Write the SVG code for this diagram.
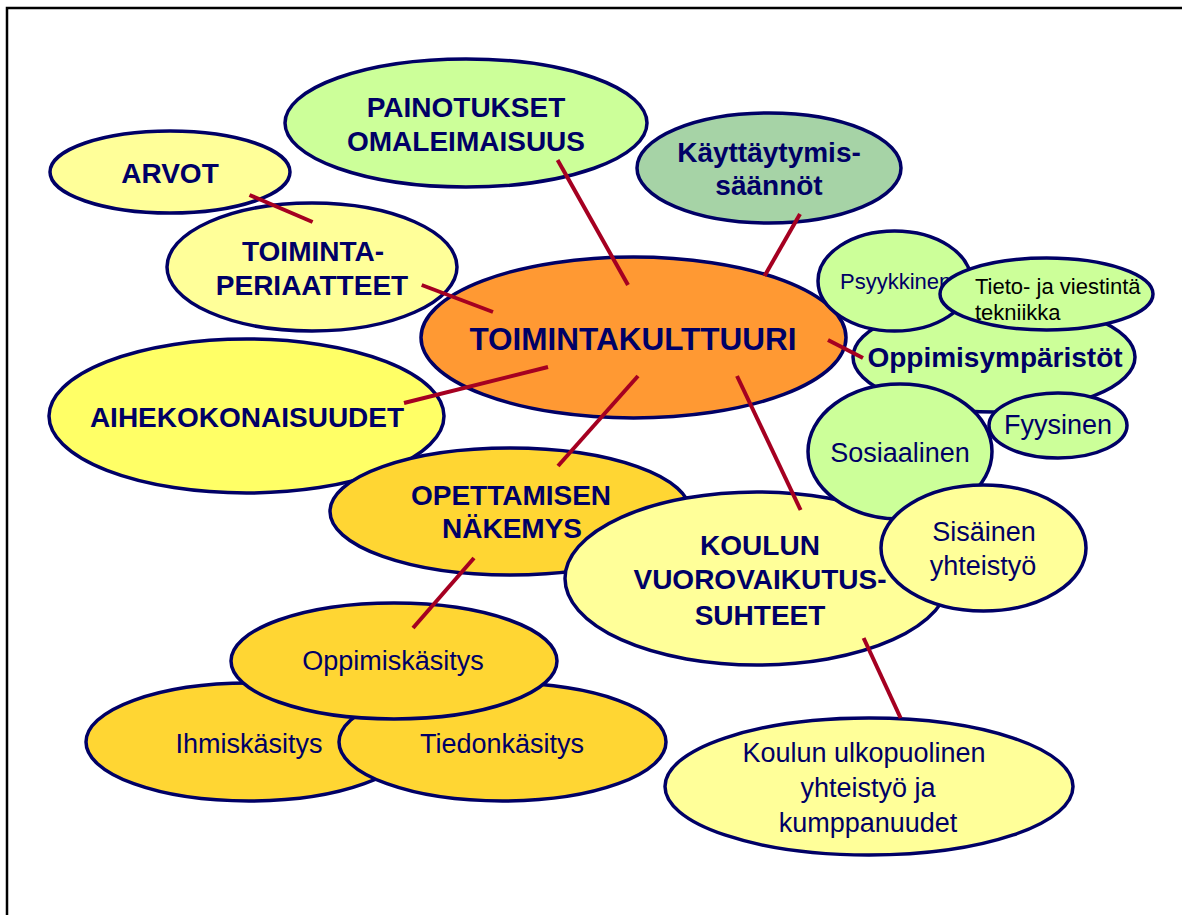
<svg xmlns="http://www.w3.org/2000/svg" width="1182" height="915" viewBox="0 0 1182 915">
<style>
.n{stroke:#000066;stroke-width:3.5}
.y{fill:#FFFF99}.g{fill:#CCFF99}.o{fill:#FF9933}.b{fill:#FFFF66}.d{fill:#FFD633}.s{fill:#A6D3A6}
text{font-family:"Liberation Sans",Arial,sans-serif;fill:#000066;text-anchor:middle}
.B{font-weight:bold;font-size:28px}
.R{font-size:27px}
.S{font-size:22px;text-anchor:start}
.c line{stroke:#A50021;stroke-width:4}
</style>
<rect width="1182" height="915" fill="#fff"/>
<path d="M7,916 V8 H1182" fill="none" stroke="#000" stroke-width="2.5"/>
<g id="arvot"><ellipse class="n y" cx="170" cy="172" rx="120" ry="41"/><text class="B" x="170" y="183">ARVOT</text></g>
<g id="painotukset"><ellipse class="n g" cx="466" cy="123" rx="181" ry="64"/><text class="B" x="466" y="117">PAINOTUKSET</text><text class="B" x="466" y="151">OMALEIMAISUUS</text></g>
<g id="kayttaytymis"><ellipse class="n s" cx="769" cy="168" rx="132" ry="55"/><text class="B" x="769" y="162">Käyttäytymis-</text><text class="B" x="769" y="195">säännöt</text></g>
<g id="periaatteet"><ellipse class="n y" cx="312" cy="267" rx="145" ry="64"/><text class="B" x="313" y="261">TOIMINTA-</text><text class="B" x="312" y="295">PERIAATTEET</text></g>
<g id="toimintakulttuuri"><ellipse class="n o" cx="633.5" cy="337.5" rx="212.5" ry="80.5"/><text class="B" x="633" y="350" style="font-size:31.5px">TOIMINTAKULTTUURI</text></g>
<g id="aihekokonaisuudet"><ellipse class="n b" cx="246.5" cy="416" rx="197.5" ry="77"/><text class="B" x="247" y="427">AIHEKOKONAISUUDET</text></g>
<g id="opettamisen"><ellipse class="n d" cx="510" cy="511.5" rx="180" ry="63.5"/><text class="B" x="511" y="505">OPETTAMISEN</text><text class="B" x="512" y="538">NÄKEMYS</text></g>
<g id="oppimisymparistot"><ellipse class="n g" cx="994" cy="357" rx="141" ry="55"/><text class="B" x="995" y="367">Oppimisympäristöt</text></g>
<g id="psyykkinen"><ellipse class="n g" cx="894.5" cy="281" rx="76.5" ry="50"/><text class="S" x="840" y="289">Psyykkinen</text></g>
<g id="tieto"><ellipse class="n g" cx="1046.5" cy="294" rx="106.5" ry="36"/><text class="S" x="975" y="294" style="fill:#000">Tieto- ja viestintä</text><text class="S" x="975" y="320" style="fill:#000">tekniikka</text></g>
<g id="fyysinen"><ellipse class="n g" cx="1058" cy="425.5" rx="69" ry="32.5"/><text class="R" x="1058" y="434">Fyysinen</text></g>
<g id="koulun"><ellipse class="n y" cx="757" cy="578.5" rx="192" ry="86.5"/><text class="B" x="760" y="555">KOULUN</text><text class="B" x="760" y="589">VUOROVAIKUTUS-</text><text class="B" x="760" y="625">SUHTEET</text></g>
<g id="sosiaalinen"><ellipse class="n g" cx="900" cy="451.5" rx="92" ry="67.5"/><text class="R" x="900" y="462">Sosiaalinen</text></g>
<g id="sisainen"><ellipse class="n y" cx="983.5" cy="548" rx="102.5" ry="63"/><text class="R" x="984" y="541">Sisäinen</text><text class="R" x="983" y="575">yhteistyö</text></g>
<g id="ulkopuolinen"><ellipse class="n y" cx="869" cy="786.5" rx="204" ry="68.5"/><text class="R" x="864" y="762">Koulun ulkopuolinen</text><text class="R" x="868" y="797">yhteistyö ja</text><text class="R" x="868" y="832">kumppanuudet</text></g>
<g id="ihmiskasitys"><ellipse class="n d" cx="249" cy="742" rx="163" ry="59"/><text class="R" x="249" y="753">Ihmiskäsitys</text></g>
<g id="tiedonkasitys"><ellipse class="n d" cx="502.5" cy="742" rx="163.5" ry="59"/><text class="R" x="502" y="753">Tiedonkäsitys</text></g>
<g id="oppimiskasitys"><ellipse class="n d" cx="394" cy="661" rx="163" ry="58"/><text class="R" x="393" y="670">Oppimiskäsitys</text></g>
<g id="connectors" class="c">
<line x1="249.5" y1="195" x2="312.6" y2="222"/>
<line x1="421.7" y1="285" x2="493" y2="312"/>
<line x1="557.6" y1="160" x2="628" y2="285"/>
<line x1="800" y1="214" x2="764.5" y2="276"/>
<line x1="828" y1="340" x2="863" y2="358"/>
<line x1="548" y1="367" x2="404" y2="403"/>
<line x1="638" y1="376" x2="558" y2="466"/>
<line x1="737" y1="376" x2="800.6" y2="510"/>
<line x1="474" y1="558" x2="413" y2="628"/>
<line x1="863.6" y1="638" x2="900.6" y2="718"/>
</g>
</svg>
